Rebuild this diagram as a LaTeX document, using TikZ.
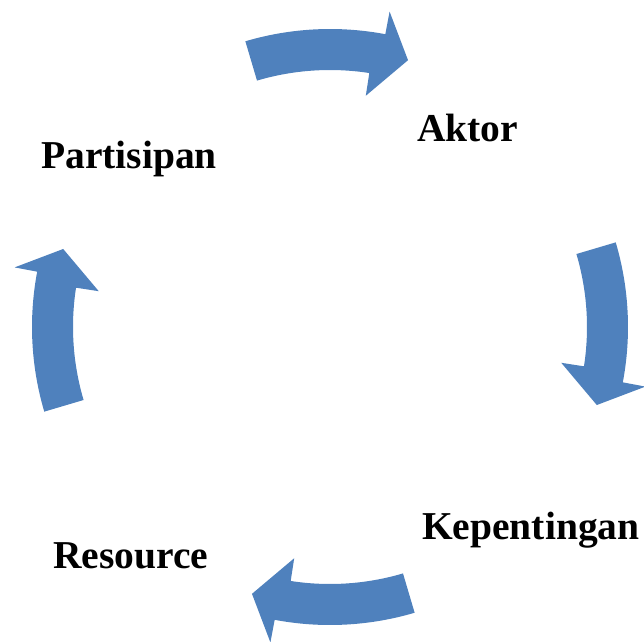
\documentclass[tikz,border=0pt]{standalone}
\usepackage{fontspec}
\setmainfont{Liberation Serif}
\definecolor{arrowblue}{HTML}{4F81BD}
\tikzset{
  cyclelabel/.style={anchor=base west, inner sep=0pt, font=\fontsize{39.5}{40}\selectfont\bfseries},
  cyclearrow/.style={fill=arrowblue}
}

\begin{document}
\begin{tikzpicture}[x=1pt,y=1pt]
  % Page frame, centre of the cycle at the origin
  \useasboundingbox (-330,-314) rectangle (314,327);
  % Curved block arrows, clockwise
  \foreach \m in {90,0,-90,180} {
    \fill[cyclearrow] ({\m+16.5}:298) arc[start angle=\m+16.5, end angle=\m-10.7, radius=298]
      -- ({\m-10.7}:321) -- ({\m-16.3}:278) -- ({\m-8.8}:234) -- ({\m-8.8}:257)
      arc[start angle=\m-8.8, end angle=\m+16.5, radius=257] -- cycle;
  }
  % Labels
  \node[cyclelabel] (partisipan) at (-289,159) {Partisipan};
  \node[cyclelabel] (aktor) at (87,186) {Aktor};
  \node[cyclelabel] (kepentingan) at (92,-212) {Kepentingan};
  \node[cyclelabel] (resource) at (-277,-241) {Resource};
\end{tikzpicture}
\end{document}
